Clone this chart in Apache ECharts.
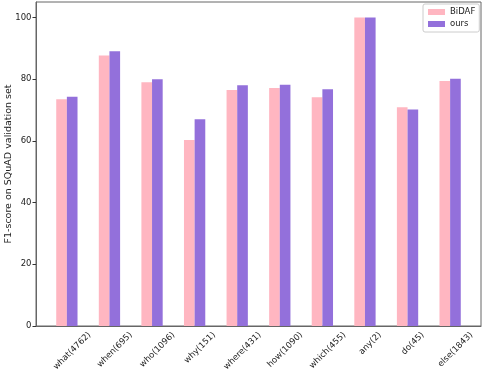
<!DOCTYPE html>
<html>
<head>
<meta charset="utf-8">
<script src="https://cdn.jsdelivr.net/npm/echarts@6/dist/echarts.min.js"></script>
<style>
  html, body { margin: 0; padding: 0; background: #fff; }
  #chart { width: 484px; height: 374px; }
</style>
</head>
<body>
<div id="chart"></div>
<script>
const categories = ['what(4762)', 'when(695)', 'who(1096)', 'why(151)', 'where(431)', 'how(1090)', 'which(455)', 'any(2)', 'do(45)', 'else(1843)'];
const bidaf = [73.5, 87.7, 79.0, 60.3, 76.5, 77.1, 74.1, 100.0, 70.9, 79.4];
const ours  = [74.3, 89.0, 80.0, 67.0, 78.0, 78.2, 76.7, 100.0, 70.2, 80.1];
const yTicks = [0, 20, 40, 60, 80, 100];
const seriesNames = ['BiDAF', 'ours'];

const FONT = 'DejaVu Sans';
const FS = 8.5;
const BAR_W = 0.25;

// measure label widths to mimic centered rotated labels
const cv = document.createElement('canvas').getContext('2d');
cv.font = FS + 'px "' + FONT + '"';
const widths = categories.map(c => cv.measureText(c).width);
const wMin = Math.min.apply(null, widths);
const rich = {};
categories.forEach((c, i) => {
  const P = (widths[i] - wMin) / 2;
  rich['c' + i] = { padding: [P, P, 0, 0], fontSize: FS, fontFamily: FONT, color: '#222' };
});
const labelMargin = 4 + 0.354 * (wMin + FS * 1.17);

const xTickVals = categories.map((c, i) => i + BAR_W);

function renderBar(params, api) {
  const x = api.value(0), v = api.value(1);
  const top = api.coord([x, v]);
  const base = api.coord([x, 0]);
  const w = api.size([BAR_W, 0])[0];
  return {
    type: 'rect',
    shape: { x: top[0] - w / 2, y: top[1], width: w, height: base[1] - top[1] },
    style: api.style()
  };
}

const chart = echarts.init(document.getElementById('chart'), null, { renderer: 'canvas' });
chart.setOption({
  animation: false,
  textStyle: { fontFamily: FONT },
  grid: { left: 36, right: 3, top: 2, bottom: 48, show: true, borderColor: '#666', borderWidth: 1, outerBoundsMode: 'none', containLabel: false },
  legend: {
    data: seriesNames,
    orient: 'vertical',
    left: 423, top: 4,
    icon: 'rect',
    itemWidth: 17, itemHeight: 6, itemGap: 2, itemTextGap: 6,
    padding: [3, 4, 3, 5],
    backgroundColor: '#fff',
    borderColor: '#ccc', borderWidth: 1, borderRadius: 2,
    textStyle: { fontSize: FS, fontFamily: FONT, color: '#222', lineHeight: 10 }
  },
  xAxis: {
    type: 'value', min: -0.6, max: 9.85,
    axisLine: { show: true, onZero: false, lineStyle: { color: '#666', width: 1 } },
    axisTick: { show: true, inside: true, length: 4, customValues: xTickVals, lineStyle: { color: '#333' } },
    axisLabel: {
      customValues: xTickVals,
      rotate: 45, align: 'center', verticalAlign: 'middle',
      margin: labelMargin,
      fontSize: FS, color: '#222',
      formatter: v => { const i = Math.round(v - BAR_W); return '{c' + i + '|' + categories[i] + '}'; },
      rich: rich
    },
    splitLine: { show: false }
  },
  yAxis: {
    type: 'value', min: 0, max: 105,
    name: 'F1-score on SQuAD validation set',
    nameLocation: 'middle', nameRotate: 90, nameGap: 22.5, nameMoveOverlap: false,
    nameTextStyle: { fontSize: 9.5, color: '#222', fontFamily: FONT },
    axisLine: { show: true, onZero: false, lineStyle: { color: '#666', width: 1 } },
    axisTick: { show: true, inside: false, length: 3.5, customValues: yTicks, lineStyle: { color: '#333' } },
    axisLabel: { customValues: yTicks, fontSize: FS, color: '#222', margin: 4.5 },
    splitLine: { show: false }
  },
  series: [
    {
      name: seriesNames[0], type: 'custom', renderItem: renderBar,
      itemStyle: { color: '#FFB6C1' },
      encode: { x: 0, y: 1 },
      data: bidaf.map((v, i) => [i, v])
    },
    {
      name: seriesNames[1], type: 'custom', renderItem: renderBar,
      itemStyle: { color: '#9370DB' },
      encode: { x: 0, y: 1 },
      data: ours.map((v, i) => [i + BAR_W, v])
    }
  ]
});
</script>
</body>
</html>
